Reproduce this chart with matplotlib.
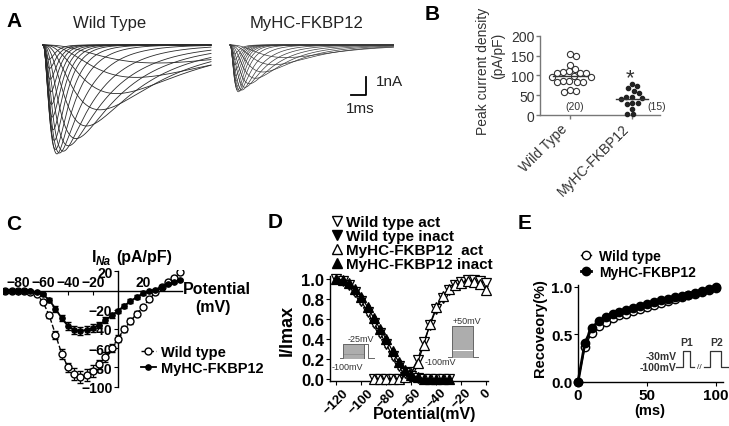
import numpy as np
import matplotlib
matplotlib.use('Agg')
import matplotlib.pyplot as plt
from matplotlib.lines import Line2D

plt.rcParams['font.family'] = ['Liberation Sans', 'DejaVu Sans']
plt.rcParams['axes.linewidth'] = 1.0

W, H = 729, 427

# ---- A: Na current sweeps
# peak amplitude (nA), time to peak (ms), decay time constant (ms)
wt_amp = [1.0, 1.8, 2.7, 3.6, 4.5, 5.2, 5.6, 5.9, 6.0, 6.05, 5.8, 5.3, 4.7, 4.0, 3.3, 2.6, 1.9, 1.3, 0.8]
wt_tpeak = [7.6, 6.2, 4.9, 3.8, 2.9, 2.2, 1.7, 1.35, 1.1, 0.93, 0.83, 0.75, 0.68, 0.62, 0.57, 0.52, 0.48, 0.44, 0.40]
wt_decay = [5.5, 5.0, 4.6, 4.2, 3.8, 3.4, 3.0, 2.4, 1.8, 1.3, 1.0, 0.8, 0.7, 0.62, 0.56, 0.5, 0.48, 0.45, 0.42]
mhc_amp = [0.7, 1.1, 1.5, 1.85, 2.15, 2.35, 2.5, 2.55, 2.6, 2.5, 2.3, 2.0, 1.7, 1.4, 1.1, 0.8, 0.5]
mhc_tpeak = [3.7, 2.9, 2.2, 1.7, 1.3, 1.0, 0.8, 0.65, 0.55, 0.5, 0.45, 0.42, 0.39, 0.36, 0.34, 0.32, 0.30]
mhc_decay = [3.0, 2.7, 2.4, 2.1, 1.8, 1.5, 1.2, 0.9, 0.65, 0.52, 0.46, 0.42, 0.4, 0.37, 0.35, 0.33, 0.31]
sweep_ms = 11.2
mhc_start_ms = 12.47

# ---- B: peak current density (pA/pF)
b_groups = ['Wild Type', 'MyHC-FKBP12']
b_wt = [154, 148, 126, 117, 110, 108, 107, 106, 106, 98, 97, 96, 86, 85, 84, 84, 83, 62, 61, 57]
b_mhc = [78, 72, 67, 61, 56, 46, 46, 44, 40, 31, 31, 27, 16, 2, 2]
b_n = ['(20)', '(15)']

# ---- C: I-V relation
c_volt = [-90, -85, -80, -75, -70, -65, -60, -55, -50, -45, -40, -35, -30, -25, -20,
          -15, -10, -5, 0, 5, 10, 15, 20, 25, 30, 35, 40, 45, 50]
c_wt = [0, 0, 0, -0.5, -2, -4, -12, -26, -46, -66, -80, -87, -90, -88, -84,
        -77, -69, -60, -50, -40, -32, -24, -17, -9, -2, 4, 9, 13, 19]
c_wt_err = [1, 1, 1, 1, 1, 1, 2, 3, 4, 5, 5, 6, 6, 6, 6,
            5, 5, 4, 4, 3, 3, 3, 2, 2, 2, 2, 2, 2, 2]
c_mhc = [0, 0, 0, 0, -1, -2, -4, -10, -19, -29, -37, -41, -42, -41, -39,
         -36, -31, -26, -21, -16, -11, -7, -3, -1, 1, 4, 7, 9, 11]
c_mhc_err = [1, 1, 1, 1, 1, 1, 1, 2, 3, 3, 4, 4, 4, 4, 4,
             3, 3, 3, 2, 2, 2, 2, 2, 1, 1, 1, 1, 1, 1]

# ---- D: steady-state activation / inactivation
d_act_v = [-90, -85, -80, -75, -70, -65, -60, -55, -50, -45, -40, -35, -30, -25, -20, -15, -10, -5, 0]
d_wt_act = [0, 0, 0, 0, 0.005, 0.02, 0.07, 0.19, 0.37, 0.54, 0.70, 0.81, 0.89, 0.94, 0.97, 0.99, 0.99, 0.98, 0.96]
d_mhc_act = [0, 0, 0, 0, 0.005, 0.02, 0.06, 0.16, 0.34, 0.55, 0.72, 0.83, 0.90, 0.94, 0.96, 0.98, 0.97, 0.95, 0.89]
d_inact_v = [-120, -115, -110, -105, -100, -95, -90, -85, -80, -75, -70, -65, -60, -55, -50, -45, -40, -35, -30]
d_wt_inact = [1.0, 0.98, 0.94, 0.87, 0.78, 0.67, 0.56, 0.46, 0.35, 0.23, 0.13, 0.06, 0.03, 0.01, 0, 0, 0, 0, 0]
d_mhc_inact = [1.0, 0.99, 0.96, 0.90, 0.82, 0.72, 0.61, 0.50, 0.40, 0.28, 0.17, 0.09, 0.04, 0.02, 0, 0, 0, 0, 0]
d_err = 0.025
d_labels = ['Wild type act', 'Wild type inact', 'MyHC-FKBP12  act', 'MyHC-FKBP12 inact']
inact_levels = [-100, -95, -90, -85, -80, -75, -70, -65, -60, -55, -50, -45, -40, -35, -30, -25]
act_levels = list(range(-100, 55, 5))

# ---- E: recovery from inactivation
e_time = [0, 5, 10, 15, 20, 25, 30, 35, 40, 45, 50, 55, 60, 65, 70, 75, 80, 85, 90, 95, 100]
e_wt = [0, 0.37, 0.52, 0.59, 0.63, 0.67, 0.70, 0.72, 0.75, 0.77, 0.79, 0.81, 0.83, 0.85,
        0.87, 0.89, 0.91, 0.93, 0.95, 0.97, 0.99]
e_mhc = [0, 0.41, 0.57, 0.64, 0.68, 0.71, 0.74, 0.76, 0.78, 0.80, 0.82, 0.84, 0.86, 0.87,
         0.89, 0.90, 0.92, 0.94, 0.96, 0.98, 1.0]


def ax_px(l, t, r, b):
    return fig.add_axes([l / W, 1 - b / H, (r - l) / W, (b - t) / H])


def ftxt(x, y, s, **kw):
    fig.text(x / W, 1 - y / H, s, **kw)


def sweep(amp, tp, th, t):
    # m^3 h shaped current, activation constant chosen to put the peak at tp
    lo, hi = 1e-4, 50.0
    for _ in range(60):
        mid = (lo + hi) / 2
        if mid * np.log(1 + 3 * th / mid) < tp:
            lo = mid
        else:
            hi = mid
    g = (1 - np.exp(-t / lo)) ** 3 * np.exp(-t / th)
    gp = (1 - np.exp(-tp / lo)) ** 3 * np.exp(-tp / th)
    return -amp * g / gp


def swarm(vals, d, ppx, ppy):
    xs = np.zeros(len(vals))
    placed = []
    for i in np.argsort(vals)[::-1]:
        y = vals[i] * ppy
        cands, blocks = [0.0], []
        for xj, yj in placed:
            dy = abs(y - yj)
            if dy < d:
                w = np.sqrt(d ** 2 - dy ** 2)
                blocks.append((xj - w, xj + w))
                cands += [xj + w, xj - w]
        ok = [c for c in cands if all(not (a + 1e-6 < c < b - 1e-6) for a, b in blocks)]
        best = min(ok, key=lambda c: (round(abs(c), 3), c < 0))
        placed.append((best, y))
        xs[i] = best / ppx
    return xs


fig = plt.figure(figsize=(W / 100, H / 100), dpi=100)

# ================= A =================
axA = ax_px(40, 40, 400, 170)
axA.set_xlim(-0.2, 23.8)
axA.set_ylim(-124 / 18, 6 / 18)
axA.axis('off')
t = np.linspace(0, sweep_ms, 700)
for a, tp, th in zip(wt_amp, wt_tpeak, wt_decay):
    axA.plot(t, sweep(a, tp, th, t), color='#2a2a2a', lw=0.6)
t2 = np.linspace(0, 10.9, 700)
for a, tp, th in zip(mhc_amp, mhc_tpeak, mhc_decay):
    axA.plot(t2 + mhc_start_ms, sweep(a, tp, th, t2), color='#3a3a3a', lw=0.5)
axA.plot([20.5, 21.5, 21.5], [-2.78, -2.78, -1.78], color='k', lw=1.3)
ftxt(14, 26.7, 'A', fontsize=15, fontweight='bold', ha='center', va='baseline')
ftxt(109.5, 28.3, 'Wild Type', fontsize=12, ha='center', va='baseline', color='#222')
ftxt(306.7, 28.3, 'MyHC-FKBP12', fontsize=12, ha='center', va='baseline', color='#222')
ftxt(376, 82, '1nA', fontsize=11, ha='left', va='center', color='#222')
ftxt(360.5, 109, '1ms', fontsize=11, ha='center', va='center', color='#222')

# ================= B =================
axB = ax_px(540, 36.7, 660, 116)
axB.set_xlim(0.52, 2.45)
axB.set_ylim(0, 200)
ppx, ppy = 62.0, 79.3 / 200
for s in ['top', 'right']:
    axB.spines[s].set_visible(False)
for s in ['left', 'bottom']:
    axB.spines[s].set_color('#777')
axB.tick_params(colors='#777', labelcolor='#333', labelsize=10, length=3, width=1, pad=1)
axB.set_yticks([0, 50, 100, 150, 200])
axB.set_xticks([1, 2])
axB.set_xticklabels(b_groups, rotation=45, ha='right')
wt_x = 1 + swarm(np.array(b_wt, float), 6.3, ppx, ppy)
mhc_x = 2 + swarm(np.array(b_mhc, float), 5.6, ppx, ppy)
axB.scatter(wt_x, b_wt, s=20, facecolors='white', edgecolors='#333', linewidths=0.8,
            clip_on=False, zorder=3)
axB.scatter(mhc_x, b_mhc, s=9, color='#222', clip_on=False, zorder=3)
axB.plot([0.73, 1.27], [np.mean(b_wt)] * 2, color='#333', lw=1, zorder=4)
axB.plot([1.74, 2.26], [np.mean(b_mhc)] * 2, color='#333', lw=1, zorder=4)
axB.text(1.07, 23, b_n[0], fontsize=7.5, ha='center', va='center', color='#333')
axB.text(2.39, 23, b_n[1], fontsize=7.5, ha='center', va='center', color='#333')
axB.text(1.97, 95, '*', fontsize=16, ha='center', va='center', color='#333')
ftxt(432.5, 20, 'B', fontsize=15, fontweight='bold', ha='center', va='baseline')
ftxt(483, 71, 'Peak current density', fontsize=10, rotation=90, ha='center', va='center', color='#333')
ftxt(498, 56, '(pA/pF)', fontsize=10, rotation=90, ha='center', va='center', color='#333')

# ================= C =================
axC = ax_px(118 - 92 * 1.25, 291.5 - 21 * 0.96, 118 + 53 * 1.25, 291.5 + 101 * 0.96)
axC.set_xlim(-92, 53)
axC.set_ylim(-101, 21)
axC.patch.set_visible(False)
axC.spines['right'].set_visible(False)
axC.spines['bottom'].set_visible(False)
axC.spines['left'].set_position(('data', 0))
axC.spines['left'].set_bounds(-100, 20)
axC.spines['top'].set_position(('data', 0))
axC.spines['top'].set_bounds(-90, 51)
axC.xaxis.tick_top()
axC.set_xticks([-80, -60, -40, -20, 20])
axC.set_yticks([-100, -80, -60, -40, -20, 20])
axC.tick_params(axis='x', direction='in', length=3, pad=1, labelsize=10)
axC.tick_params(axis='y', direction='out', length=3, pad=1, labelsize=10)
for lab in axC.get_xticklabels() + axC.get_yticklabels():
    lab.set_fontweight('bold')
eb_wt = axC.errorbar(c_volt, c_wt, yerr=c_wt_err, fmt='o', ms=5, mfc='white', mec='k', mew=1,
                     ls='--', color='k', lw=1, ecolor='k', elinewidth=0.8, capsize=2, zorder=3)
eb_mhc = axC.errorbar(c_volt, c_mhc, yerr=c_mhc_err, fmt='o', ms=3.8, mfc='k', mec='k',
                      ls='-', color='k', lw=1.3, ecolor='k', elinewidth=0.8, capsize=2, zorder=3)
fig.legend([eb_wt.lines[0], eb_mhc.lines[0]], ['Wild type', 'MyHC-FKBP12'],
           loc='upper left', bbox_to_anchor=(141 / W, 1 - 346 / H), frameon=False,
           borderpad=0, borderaxespad=0, handlelength=1.0, handletextpad=0.4,
           labelspacing=0.15, prop={'size': 10.5, 'weight': 'bold'})
ftxt(14, 229.5, 'C', fontsize=15, fontweight='bold', ha='center', va='baseline')
ftxt(91.7, 261.7, 'I', fontsize=11.5, fontweight='bold', va='baseline')
ftxt(96, 265, 'Na', fontsize=8.5, fontweight='bold', fontstyle='italic', va='baseline')
ftxt(116.7, 261.7, '(pA/pF)', fontsize=11.5, fontweight='bold', va='baseline')
ftxt(182.7, 294.3, 'Potential', fontsize=11.5, fontweight='bold', va='baseline')
ftxt(213, 312.3, '(mV)', fontsize=11.5, fontweight='bold', ha='center', va='baseline')

# ================= D =================
axD = ax_px(330, 277, 487.5, 381.5)
axD.set_xlim(-125, 1)
axD.set_ylim(-0.015, 1.03)
for s in ['top', 'right']:
    axD.spines[s].set_visible(False)
axD.set_xticks([-120, -100, -80, -60, -40, -20, 0])
axD.set_yticks([0, 0.2, 0.4, 0.6, 0.8, 1.0])
axD.set_yticklabels(['%.1f' % v for v in [0, 0.2, 0.4, 0.6, 0.8, 1.0]])
axD.tick_params(axis='y', length=3, pad=1, labelsize=12)
axD.tick_params(axis='x', length=3, pad=1, labelsize=9.5, labelrotation=45)
for lab in axD.get_xticklabels() + axD.get_yticklabels():
    lab.set_fontweight('bold')
ekw = dict(ls='-', color='k', lw=0.9, ecolor='k', elinewidth=0.7, capsize=1.5,
           ms=6.5, mec='k', mew=0.9, clip_on=False, zorder=3)
axD.errorbar(d_act_v, d_wt_act, yerr=d_err, fmt='v', mfc='white', **ekw)
axD.errorbar(d_act_v, d_mhc_act, yerr=d_err, fmt='^', mfc='white', **ekw)
axD.errorbar(d_inact_v, d_wt_inact, yerr=d_err, fmt='v', mfc='white', **ekw)
axD.errorbar(d_inact_v, d_mhc_inact, yerr=d_err, fmt='^', mfc='k', **ekw)
axD.set_xlabel('Potential(mV)', fontsize=11.5, fontweight='bold')
axD.xaxis.set_label_coords((425 - 330) / 157.5, (381.5 - 407) / 104.5)
axD.set_ylabel('I/Imax', fontsize=13, fontweight='bold')
axD.yaxis.set_label_coords((296 - 330) / 157.5, (381.5 - 330) / 104.5)
d_handles = [Line2D([], [], marker='v', ls='none', ms=6.5, mfc='white', mec='k'),
             Line2D([], [], marker='v', ls='none', ms=6.5, mfc='k', mec='k'),
             Line2D([], [], marker='^', ls='none', ms=6.5, mfc='white', mec='k'),
             Line2D([], [], marker='^', ls='none', ms=6.5, mfc='k', mec='k')]
fig.legend(d_handles, d_labels, loc='upper left', bbox_to_anchor=(332 / W, 1 - 216 / H),
           frameon=False, borderpad=0, borderaxespad=0, handlelength=0.6, handletextpad=0.3,
           labelspacing=0.0, prop={'size': 11, 'weight': 'bold'})
ftxt(275, 228.3, 'D', fontsize=15, fontweight='bold', ha='center', va='baseline')

# inactivation protocol inset
axI = ax_px(340, 345, 374, 359.3)
axI.axis('off')
axI.set_xlim(0, 170)
axI.set_ylim(-100, -25)
for lv in inact_levels:
    axI.plot([15, 120], [lv, lv], color='#8a8a8a', lw=0.5, clip_on=False)
axI.plot([0, 15, 15, 120, 120, 120, 140, 140, 170],
         [-100, -100, -25, -25, -100, -25, -25, -100, -100], color='#666', lw=0.7, clip_on=False)
ftxt(361, 339.5, '-25mV', fontsize=6.5, ha='center', va='center', color='#333')
ftxt(347, 367.7, '-100mV', fontsize=6.5, ha='center', va='center', color='#333')

# activation protocol inset
axV = ax_px(448, 326.7, 477.7, 357.7)
axV.axis('off')
axV.set_xlim(0, 148)
axV.set_ylim(-100, 50)
for lv in act_levels:
    axV.plot([18, 123], [lv, lv], color='#8a8a8a', lw=0.5, clip_on=False)
axV.plot([0, 18, 18, 123, 123, 148], [-100, -100, 50, 50, -100, -100],
         color='#666', lw=0.7, clip_on=False)
ftxt(466.5, 321.7, '+50mV', fontsize=6.5, ha='center', va='center', color='#333')
ftxt(440, 363, '-100mV', fontsize=6.5, ha='center', va='center', color='#333')

# ================= E =================
axE = ax_px(578, 286, 578 + 105 * 1.38, 383)
axE.set_xlim(0, 105)
axE.set_ylim(0, 1.02)
for s in ['top', 'right']:
    axE.spines[s].set_visible(False)
axE.set_xticks([0, 50, 100])
axE.set_yticks([0, 0.5, 1.0])
axE.set_yticklabels(['0.0', '0.5', '1.0'])
axE.tick_params(length=3, pad=1, labelsize=11)
for lab in axE.get_xticklabels() + axE.get_yticklabels():
    lab.set_fontweight('bold')
l_wt, = axE.plot(e_time, e_wt, 'o-', color='k', lw=1, ms=6, mfc='white', mec='k', mew=1,
                 clip_on=False, zorder=3)
l_mhc, = axE.plot(e_time, e_mhc, 'o-', color='k', lw=2, ms=6, mfc='k', mec='k',
                  clip_on=False, zorder=4)
axE.set_xlabel('(ms)', fontsize=10.5, fontweight='bold')
axE.xaxis.set_label_coords((650 - 578) / 144.9, (383 - 404) / 97)
axE.set_ylabel('Recoveory(%)', fontsize=10.5, fontweight='bold')
axE.yaxis.set_label_coords((547 - 578) / 144.9, (383 - 328) / 97)
fig.legend([l_wt, l_mhc], ['Wild type', 'MyHC-FKBP12'], loc='upper left',
           bbox_to_anchor=(581 / W, 1 - 250 / H), frameon=False, borderpad=0, borderaxespad=0,
           handlelength=0.75, handletextpad=0.55, labelspacing=0.15,
           prop={'size': 10, 'weight': 'bold'})
ftxt(525, 229.3, 'E', fontsize=15, fontweight='bold', ha='center', va='baseline')

# paired-pulse protocol inset
axP = ax_px(676, 352.3, 728, 367.7)
axP.axis('off')
axP.set_xlim(0, 51)
axP.set_ylim(-100, -30)
axP.plot([0, 7, 7, 14, 14, 18], [-100, -100, -30, -30, -100, -100], color='#333', lw=0.9, clip_on=False)
axP.plot([27, 33, 33, 44, 44, 51], [-100, -100, -30, -30, -100, -100], color='#333', lw=0.9, clip_on=False)
axP.text(22.5, -100, '//', fontsize=6, ha='center', va='center', color='#333')
ftxt(676.7, 357.3, '-30mV', fontsize=7.5, fontweight='bold', ha='right', va='center', color='#333')
ftxt(676, 367.7, '-100mV', fontsize=7.5, fontweight='bold', ha='right', va='center', color='#333')
ftxt(686.7, 343.3, 'P1', fontsize=7.5, fontweight='bold', ha='center', va='center', color='#333')
ftxt(716.7, 343.3, 'P2', fontsize=7.5, fontweight='bold', ha='center', va='center', color='#333')

fig.savefig('out.png', dpi=100)
